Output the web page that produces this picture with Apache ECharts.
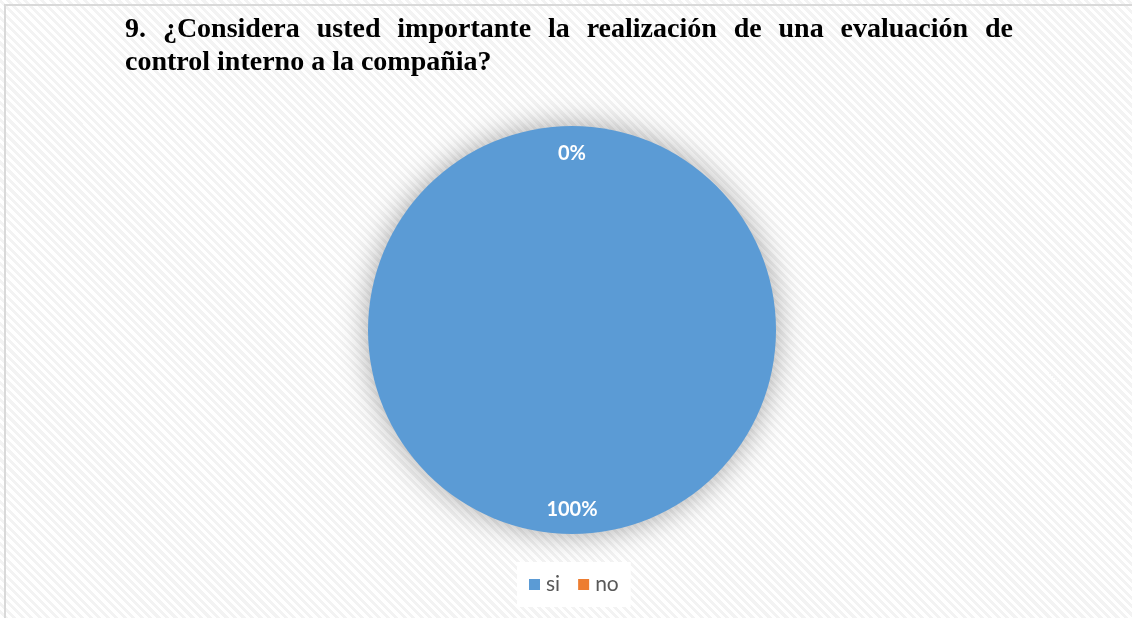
<!DOCTYPE html>
<html>
<head>
<meta charset="utf-8">
<script src="https://cdn.jsdelivr.net/npm/echarts@6/dist/echarts.min.js"></script>
<style>
html,body{margin:0;padding:0;}
body{width:1132px;height:618px;overflow:hidden;
background:repeating-linear-gradient(45deg,#ffffff 0px,#ffffff 3px,#f3f3f3 3px,#f3f3f3 6px);}
#c{width:1132px;height:618px;}
</style>
</head>
<body>
<div id="c"></div>
<script>
var titleLine1 = "9. ¿Considera usted importante la realización de una evaluación de";
var titleLine2 = "control interno a la compañia?";
var categories = ["si", "no"];
var values = [100, 0];
var colors = ["#5B9BD5", "#ED7D31"];

var chart = echarts.init(document.getElementById('c'), null, {renderer: 'canvas'});

var titleFont = "bold 28px 'Liberation Serif'";
var ctx = document.createElement('canvas').getContext('2d');
ctx.font = titleFont;
var left = 125, right = 1013;
var words = titleLine1.split(' ');
var wsum = 0, widths = words.map(function(w){var m = ctx.measureText(w).width; wsum += m; return m;});
var gap = (right - left - wsum) / (words.length - 1);
var graphics = [];
var x = left;
words.forEach(function(w, i){
  graphics.push({type:'text', left: x, top: 16, style:{text:w, font: titleFont, fill:'#000'}});
  x += widths[i] + gap;
});
graphics.push({type:'text', left: left, top: 49, style:{text:titleLine2, font: titleFont, fill:'#000'}});
graphics.push({type:'rect', shape:{x:5, y:5, width:1300, height:800}, style:{fill:'none', stroke:'#d9d9d9', lineWidth:2}, silent:true});

var data = categories.map(function(c, i){ return {name: c, value: values[i], itemStyle:{color: colors[i]}}; });

chart.setOption({
  animation: false,
  graphic: graphics,
  legend: {
    data: categories,
    bottom: 11,
    left: 517,
    itemWidth: 11,
    itemHeight: 11,
    itemGap: 18,
    icon: 'rect',
    backgroundColor: '#ffffff',
    padding: [12, 12, 12, 12],
    textStyle: {fontFamily: 'Lato', fontSize: 21, color: '#595959', padding: [0, 0, 0, 1]}
  },
  series: [
    {
      type: 'pie',
      center: [572, 330],
      radius: [0, 204],
      startAngle: 90,
      clockwise: true,
      label: {show: false},
      labelLine: {show: false},
      itemStyle: {borderWidth: 0, shadowBlur: 30, shadowColor: 'rgba(0,0,0,0.35)'},
      emphasis: {disabled: true},
      data: data
    },
    {
      type: 'pie',
      center: [572, 330],
      radius: [146, 204],
      startAngle: 90,
      clockwise: true,
      silent: true,
      legendHoverLink: false,
      itemStyle: {color: 'transparent', borderWidth: 0},
      label: {show: true, position: 'inside', formatter: '{d}%', color: '#ffffff',
              fontFamily: 'Lato', fontWeight: 'bold', fontSize: 20, offset: [0, 2]},
      labelLine: {show: false},
      emphasis: {disabled: true},
      data: categories.map(function(c, i){ return {name: c, value: values[i]}; })
    }
  ]
});
</script>
</body>
</html>
